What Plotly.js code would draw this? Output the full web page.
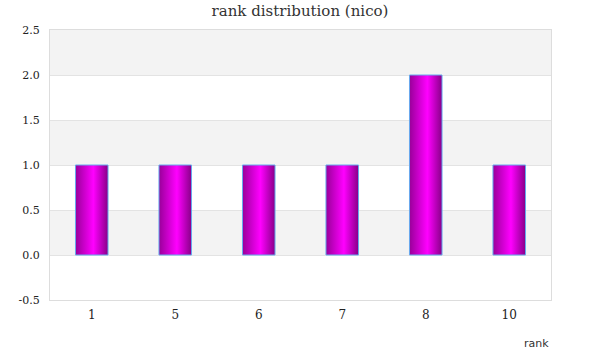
<!DOCTYPE html>
<html>
<head>
<meta charset="utf-8">
<script src="https://cdn.plot.ly/plotly-3.0.1.min.js"></script>
<style>html,body{margin:0;padding:0;background:#fff;}#chart{width:600px;height:360px;}</style>
</head>
<body>
<div id="chart"></div>
<script>
const ranks = ['1', '5', '6', '7', '8', '10'];
const counts = [1, 1, 1, 1, 2, 1];
const yTicks = [-0.5, 0, 0.5, 1, 1.5, 2, 2.5];
const yTickLabels = ['-0.5', '0.0', '0.5', '1.0', '1.5', '2.0', '2.5'];
const bandStarts = [2.0, 1.0, 0.0];

const serif = 'DejaVu Serif, Liberation Serif, serif';
const shapes = bandStarts.map(y0 => ({
  type: 'rect', xref: 'paper', yref: 'y', x0: 0, x1: 1, y0: y0, y1: y0 + 0.5,
  fillcolor: '#f3f3f3', line: {width: 0}, layer: 'below'
}));

const trace = {
  type: 'bar', x: ranks, y: counts,
  marker: {color: '#ee00ee', line: {color: '#66aaee', width: 1}},
  hoverinfo: 'x+y'
};

const layout = {
  width: 600, height: 360,
  margin: {l: 50, r: 49, t: 30, b: 60},
  paper_bgcolor: '#ffffff', plot_bgcolor: '#ffffff',
  title: {text: 'rank distribution (nico)', font: {family: serif, size: 15, color: '#333333'}, x: 0.5, xanchor: 'center', y: 0.985, yanchor: 'top'},
  bargap: 0.61,
  showlegend: false,
  xaxis: {
    type: 'category', range: [-0.5, 5.5], showgrid: false, zeroline: false,
    showline: true, mirror: true, linecolor: '#dddddd', linewidth: 1,
    ticks: '', tickfont: {family: serif, size: 12, color: '#222222'}, ticklabelstandoff: 4
  },
  yaxis: {
    range: [-0.5, 2.5], tickvals: yTicks, ticktext: yTickLabels,
    showgrid: true, gridcolor: '#e3e3e3', zeroline: false,
    showline: true, mirror: true, linecolor: '#dddddd', linewidth: 1,
    ticks: '', tickfont: {family: serif, size: 11, color: '#222222'}, ticklabelstandoff: 7
  },
  shapes: shapes,
  annotations: [{
    text: 'rank', xref: 'paper', yref: 'paper', x: 1, y: -0.13, xanchor: 'right', yanchor: 'top',
    showarrow: false, font: {family: 'DejaVu Sans, Verdana, sans-serif', size: 11, color: '#333333'}
  }]
};

const gd = document.getElementById('chart');
function applyGradient() {
  const svg = gd.querySelector('svg.main-svg');
  if (!svg) return;
  let defs = svg.querySelector('defs');
  if (!svg.querySelector('#barGrad')) {
    const ns = 'http://www.w3.org/2000/svg';
    const g = document.createElementNS(ns, 'linearGradient');
    g.setAttribute('id', 'barGrad');
    g.setAttribute('x1', '0'); g.setAttribute('x2', '1');
    g.setAttribute('y1', '0'); g.setAttribute('y2', '0');
    [['0', '#990099'], ['0.55', '#ff00ff'], ['1', '#880088']].forEach(([o, c]) => {
      const s = document.createElementNS(ns, 'stop');
      s.setAttribute('offset', o); s.setAttribute('stop-color', c);
      g.appendChild(s);
    });
    defs.appendChild(g);
  }
  gd.querySelectorAll('.bars .point path').forEach(p => { p.style.fill = 'url(#barGrad)'; });
}
Plotly.newPlot(gd, [trace], layout, {displayModeBar: false, staticPlot: true}).then(applyGradient);
</script>
</body>
</html>
